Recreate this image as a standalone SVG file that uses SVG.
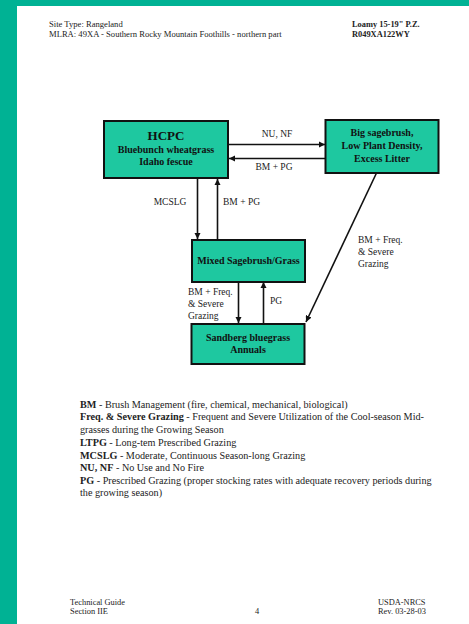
<svg xmlns="http://www.w3.org/2000/svg" width="469" height="624" viewBox="0 0 469 624">
<style>
.t{font-family:"Liberation Serif","Times New Roman",serif;fill:#222}
.h{font-size:8.6px}
.f{font-size:8.4px}
.b{font-weight:bold}
.nd{fill:#1ec8a0;stroke:#111;stroke-width:2}
.nt{font-family:"Liberation Serif","Times New Roman",serif;font-weight:bold;font-size:10px;fill:#111;text-anchor:middle}
.lb{font-size:9.5px}
.lg{font-size:10.2px}
.c{stroke:#111;stroke-width:1.6;fill:none}
</style>
<defs>
<marker id="ah" viewBox="0 0 8 8" refX="8" refY="4" markerWidth="4" markerHeight="4" orient="auto" markerUnits="strokeWidth">
<path d="M0,0 L8,4 L0,8 z" fill="#111"/>
</marker>
</defs>
<rect x="0" y="0" width="469" height="624" fill="#fff"/>
<rect x="0" y="0" width="469" height="6" fill="#00b294"/>
<rect x="0" y="0" width="17" height="624" fill="#00b294"/>

<g id="header">
<text class="t h" x="49" y="27">Site Type:  Rangeland</text>
<text class="t h" x="49" y="37">MLRA:  49XA - Southern Rocky Mountain Foothills - northern part</text>
<text class="t f b" x="352" y="27">Loamy 15-19" P.Z.</text>
<text class="t f b" x="352" y="37">R049XA122WY</text>
</g>

<g id="connectors">
<line class="c" x1="229" y1="144.5" x2="325" y2="144.5" marker-end="url(#ah)"/>
<line class="c" x1="325" y1="158.5" x2="229" y2="158.5" marker-end="url(#ah)"/>
<line class="c" x1="197.5" y1="179" x2="197.5" y2="239" marker-end="url(#ah)"/>
<line class="c" x1="217.5" y1="239" x2="217.5" y2="179" marker-end="url(#ah)"/>
<line class="c" x1="238.5" y1="282" x2="238.5" y2="323" marker-end="url(#ah)"/>
<line class="c" x1="263.5" y1="323" x2="263.5" y2="282" marker-end="url(#ah)"/>
<line class="c" x1="376.5" y1="173" x2="306" y2="322" marker-end="url(#ah)"/>
<text class="t lb" x="277" y="137" text-anchor="middle">NU, NF</text>
<text class="t lb" x="274" y="170" text-anchor="middle">BM + PG</text>
<text class="t lb" x="170" y="205" text-anchor="middle">MCSLG</text>
<text class="t lb" x="223" y="205">BM + PG</text>
<text class="t lb" x="358" y="243">BM + Freq.</text>
<text class="t lb" x="358" y="255">&amp; Severe</text>
<text class="t lb" x="358" y="267">Grazing</text>
<text class="t lb" x="188" y="295">BM + Freq.</text>
<text class="t lb" x="188" y="307">&amp; Severe</text>
<text class="t lb" x="188" y="319">Grazing</text>
<text class="t lb" x="270" y="304">PG</text>
</g>

<g id="hcpc">
<rect class="nd" x="104" y="121" width="124" height="57"/>
<text class="nt" x="166" y="140" style="font-size:13px">HCPC</text>
<text class="nt" x="166" y="153">Bluebunch wheatgrass</text>
<text class="nt" x="166" y="165">Idaho fescue</text>
</g>

<g id="bigsage">
<rect class="nd" x="325.5" y="120" width="113" height="53"/>
<text class="nt" x="382" y="136">Big sagebrush,</text>
<text class="nt" x="382" y="149">Low Plant Density,</text>
<text class="nt" x="382" y="162">Excess Litter</text>
</g>

<g id="mixed">
<rect class="nd" x="192" y="240" width="113" height="42"/>
<text class="nt" x="248.5" y="264">Mixed Sagebrush/Grass</text>
</g>

<g id="sandberg">
<rect class="nd" x="191.5" y="324" width="113" height="40"/>
<text class="nt" x="248" y="341">Sandberg bluegrass</text>
<text class="nt" x="248" y="353">Annuals</text>
</g>

<g id="legend">
<text class="t lg" x="80" y="408"><tspan class="b">BM</tspan> - Brush Management (fire, chemical, mechanical, biological)</text>
<text class="t lg" x="80" y="420"><tspan class="b">Freq. &amp; Severe Grazing</tspan> - Frequent and Severe Utilization of the Cool-season Mid-</text>
<text class="t lg" x="80" y="432.5">grasses during the Growing Season</text>
<text class="t lg" x="80" y="445.5"><tspan class="b">LTPG</tspan> - Long-tem Prescribed Grazing</text>
<text class="t lg" x="80" y="458.5"><tspan class="b">MCSLG</tspan> - Moderate, Continuous Season-long Grazing</text>
<text class="t lg" x="80" y="471"><tspan class="b">NU, NF</tspan> - No Use and No Fire</text>
<text class="t lg" x="80" y="483.5"><tspan class="b">PG</tspan> - Prescribed Grazing (proper stocking rates with adequate recovery periods during</text>
<text class="t lg" x="80" y="496">the growing season)</text>
</g>

<g id="footer">
<text class="t f" x="70" y="605">Technical Guide</text>
<text class="t f" x="70" y="614">Section IIE</text>
<text class="t f" x="255" y="614">4</text>
<text class="t f" x="378" y="605">USDA-NRCS</text>
<text class="t f" x="378" y="614">Rev. 03-28-03</text>
</g>
</svg>
